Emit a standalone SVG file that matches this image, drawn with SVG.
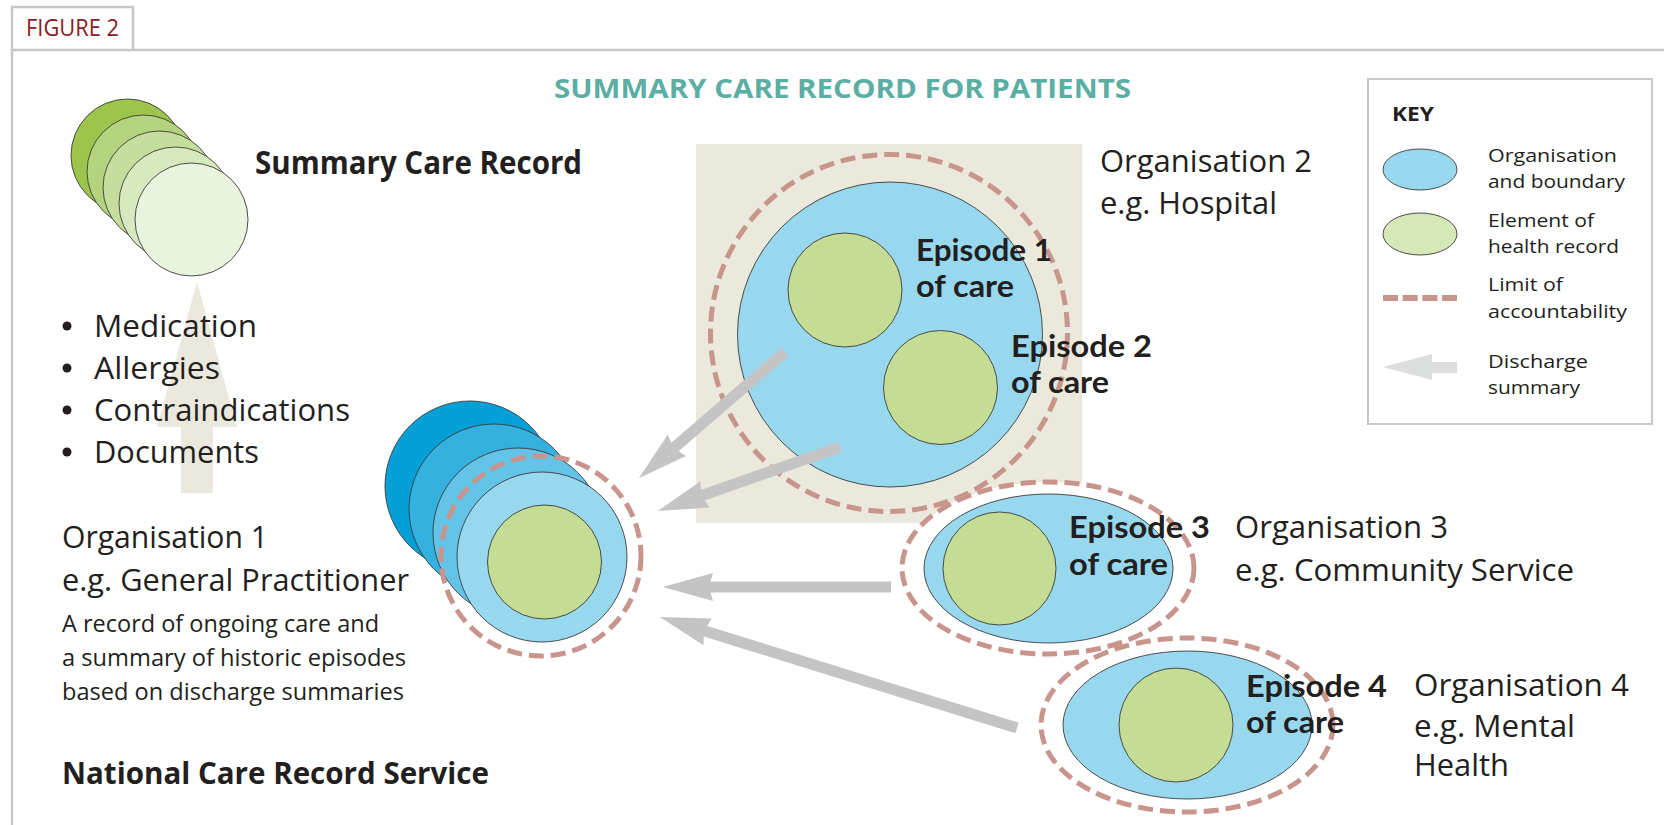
<svg xmlns="http://www.w3.org/2000/svg" width="1664" height="825" viewBox="0 0 1664 825">
<defs>
<style>
text{font-family:"Open Sans",Lato,"Liberation Sans","DejaVu Sans",sans-serif;fill:#231f20}
.lbl{font-size:31px}
.ep{font-family:Lato,"Open Sans","Liberation Sans",sans-serif;font-size:31px;font-weight:700}
.small{font-size:24px}
.key{font-size:18px}
.org{fill:#98d8ef;stroke:#3a3a3a;stroke-width:0.9}
.el{fill:#c5dc95;stroke:#3a3a3a;stroke-width:0.9}
.lim{fill:none;stroke:#c8958c;stroke-width:5;stroke-dasharray:15 7}
.frame{fill:none;stroke:#c6c6c6;stroke-width:2.5}
.dis{stroke:#c4c4c4;stroke-width:11;fill:none;marker-end:url(#ah)}
.stk{stroke:#3a3a3a;stroke-width:0.9}
</style>
<marker id="ah" markerUnits="strokeWidth" markerWidth="5" markerHeight="3" viewBox="-0.5 -1.5 5 3" refX="0" refY="0" orient="auto" overflow="visible">
<path d="M4.2,0 L-0.36,-1.27 L0,0 L-0.36,1.27 Z" fill="#c4c4c4"/>
</marker>
</defs>
<rect width="1664" height="825" fill="#ffffff"/>

<g id="frame">
<path class="frame" d="M12,825 V7 H133 V50 M12,50 H1664"/>
<text x="26" y="36" font-size="23" style="fill:#8b1c24" textLength="93" lengthAdjust="spacingAndGlyphs">FIGURE 2</text>
<text x="554" y="98" font-size="26" font-weight="700" style="fill:#5aaea3" textLength="577" lengthAdjust="spacingAndGlyphs">SUMMARY CARE RECORD FOR PATIENTS</text>
</g>

<g id="summary-care-record">
<circle class="stk" cx="127.5" cy="155.5" r="56.5" fill="#9dc54c"/>
<circle class="stk" cx="143.5" cy="171.5" r="56.5" fill="#b3d47d"/>
<circle class="stk" cx="159.5" cy="187.5" r="56.5" fill="#c6de9c"/>
<circle class="stk" cx="175.5" cy="203.5" r="56.5" fill="#d9e9bf"/>
<circle class="stk" cx="191.5" cy="219.5" r="56.5" fill="#eaf3dd"/>
<text x="255" y="174" font-size="32" font-weight="700" textLength="327" lengthAdjust="spacingAndGlyphs">Summary Care Record</text>
</g>

<g id="upload-arrow">
<polygon points="197,282 237,427 213,427 213,493 181,493 181,427 157,427" fill="#ebe9dd"/>
</g>

<g id="record-contents">
<circle cx="67" cy="326" r="4.5" fill="#231f20"/>
<circle cx="67" cy="368" r="4.5" fill="#231f20"/>
<circle cx="67" cy="410" r="4.5" fill="#231f20"/>
<circle cx="67" cy="452" r="4.5" fill="#231f20"/>
<text class="lbl" x="94" y="337" textLength="163" lengthAdjust="spacingAndGlyphs">Medication</text>
<text class="lbl" x="94" y="379" textLength="126" lengthAdjust="spacingAndGlyphs">Allergies</text>
<text class="lbl" x="94" y="421" textLength="256" lengthAdjust="spacingAndGlyphs">Contraindications</text>
<text class="lbl" x="94" y="463" textLength="165" lengthAdjust="spacingAndGlyphs">Documents</text>
</g>

<g id="organisation-2">
<rect x="696" y="144" width="386" height="379" fill="#ebe8dc"/>
<circle class="lim" cx="889" cy="333" r="178.5"/>
<circle class="org" cx="890" cy="334.5" r="152.5"/>
<circle class="el" cx="845" cy="290" r="57"/>
<circle class="el" cx="940.5" cy="387.5" r="57"/>
<text class="ep" x="916" y="261" textLength="136" lengthAdjust="spacingAndGlyphs">Episode 1</text>
<text class="ep" x="916" y="297" textLength="98" lengthAdjust="spacingAndGlyphs">of care</text>
<text class="ep" x="1011" y="357" textLength="141" lengthAdjust="spacingAndGlyphs">Episode 2</text>
<text class="ep" x="1011" y="393" textLength="98" lengthAdjust="spacingAndGlyphs">of care</text>
<text class="lbl" x="1100" y="172" textLength="212" lengthAdjust="spacingAndGlyphs">Organisation 2</text>
<text class="lbl" x="1100" y="214" textLength="177" lengthAdjust="spacingAndGlyphs">e.g. Hospital</text>
</g>

<g id="organisation-3">
<ellipse class="lim" cx="1048" cy="568" rx="146" ry="86" style="fill:#ffffff"/>
<ellipse class="org" cx="1048.5" cy="568.5" rx="124.5" ry="74.5"/>
<circle class="el" cx="999.5" cy="568.5" r="56.5"/>
<text class="ep" x="1069" y="538" textLength="141" lengthAdjust="spacingAndGlyphs">Episode 3</text>
<text class="ep" x="1069" y="575" textLength="99" lengthAdjust="spacingAndGlyphs">of care</text>
<text class="lbl" x="1235" y="538" textLength="213" lengthAdjust="spacingAndGlyphs">Organisation 3</text>
<text class="lbl" x="1235" y="581" textLength="339" lengthAdjust="spacingAndGlyphs">e.g. Community Service</text>
</g>

<g id="organisation-4">
<ellipse class="lim" cx="1187" cy="725" rx="146" ry="87" style="fill:#ffffff"/>
<ellipse class="org" cx="1187.5" cy="725" rx="124.5" ry="74"/>
<circle class="el" cx="1176" cy="725" r="57"/>
<text class="ep" x="1246" y="697" textLength="141" lengthAdjust="spacingAndGlyphs">Episode 4</text>
<text class="ep" x="1246" y="733" textLength="98" lengthAdjust="spacingAndGlyphs">of care</text>
<text class="lbl" x="1414" y="696" textLength="215" lengthAdjust="spacingAndGlyphs">Organisation 4</text>
<text class="lbl" x="1414" y="737" textLength="161" lengthAdjust="spacingAndGlyphs">e.g. Mental</text>
<text class="lbl" x="1414" y="776" textLength="95" lengthAdjust="spacingAndGlyphs">Health</text>
</g>

<g id="connectors">
<line class="dis" x1="785" y1="352" x2="673.8" y2="448"/>
<line class="dis" x1="840" y1="447" x2="701.4" y2="495.7"/>
<line class="dis" x1="891" y1="587" x2="709" y2="587"/>
<line class="dis" x1="1017" y1="728" x2="703.9" y2="630.7"/>
</g>

<g id="organisation-1">
<circle class="stk" cx="470" cy="486" r="85" fill="#05a0d8"/>
<circle class="stk" cx="494" cy="509" r="85" fill="#35b1e0"/>
<circle class="stk" cx="518" cy="533" r="85" fill="#63c4e8"/>
<circle class="org" cx="542" cy="557" r="85"/>
<circle class="el" cx="544.5" cy="562" r="57"/>
<circle class="lim" cx="541" cy="556" r="100"/>
<text class="lbl" x="62" y="548" textLength="206" lengthAdjust="spacingAndGlyphs">Organisation 1</text>
<text class="lbl" x="62" y="591" textLength="347" lengthAdjust="spacingAndGlyphs">e.g. General Practitioner</text>
<text class="small" x="62" y="632" textLength="317" lengthAdjust="spacingAndGlyphs">A record of ongoing care and</text>
<text class="small" x="62" y="666" textLength="344" lengthAdjust="spacingAndGlyphs">a summary of historic episodes</text>
<text class="small" x="62" y="700" textLength="342" lengthAdjust="spacingAndGlyphs">based on discharge summaries</text>
</g>

<g id="national-service">
<text x="62" y="784" font-size="31" font-weight="700" textLength="427" lengthAdjust="spacingAndGlyphs">National Care Record Service</text>
</g>

<g id="key">
<rect x="1368" y="79" width="284" height="345" fill="#ffffff" stroke="#c8c8c8" stroke-width="2"/>
<text x="1392" y="121" font-size="19" font-weight="700" textLength="42" lengthAdjust="spacingAndGlyphs">KEY</text>
<ellipse class="org" cx="1420" cy="169.5" rx="37" ry="20.5"/>
<ellipse class="stk" cx="1420" cy="234" rx="37" ry="21" fill="#d6e7b8"/>
<line x1="1383" y1="298" x2="1457" y2="298" stroke="#c8958c" stroke-width="6" stroke-dasharray="15 4.7"/>
<polygon points="1383,367 1432,354 1432,362 1457,362 1457,373 1432,373 1432,380" fill="#dcdddd"/>
<text class="key" x="1488" y="162" textLength="129" lengthAdjust="spacingAndGlyphs">Organisation</text>
<text class="key" x="1488" y="188" textLength="137" lengthAdjust="spacingAndGlyphs">and boundary</text>
<text class="key" x="1488" y="227" textLength="106" lengthAdjust="spacingAndGlyphs">Element of</text>
<text class="key" x="1488" y="253" textLength="131" lengthAdjust="spacingAndGlyphs">health record</text>
<text class="key" x="1488" y="291" textLength="75" lengthAdjust="spacingAndGlyphs">Limit of</text>
<text class="key" x="1488" y="318" textLength="139" lengthAdjust="spacingAndGlyphs">accountability</text>
<text class="key" x="1488" y="368" textLength="100" lengthAdjust="spacingAndGlyphs">Discharge</text>
<text class="key" x="1488" y="394" textLength="92" lengthAdjust="spacingAndGlyphs">summary</text>
</g>
</svg>
